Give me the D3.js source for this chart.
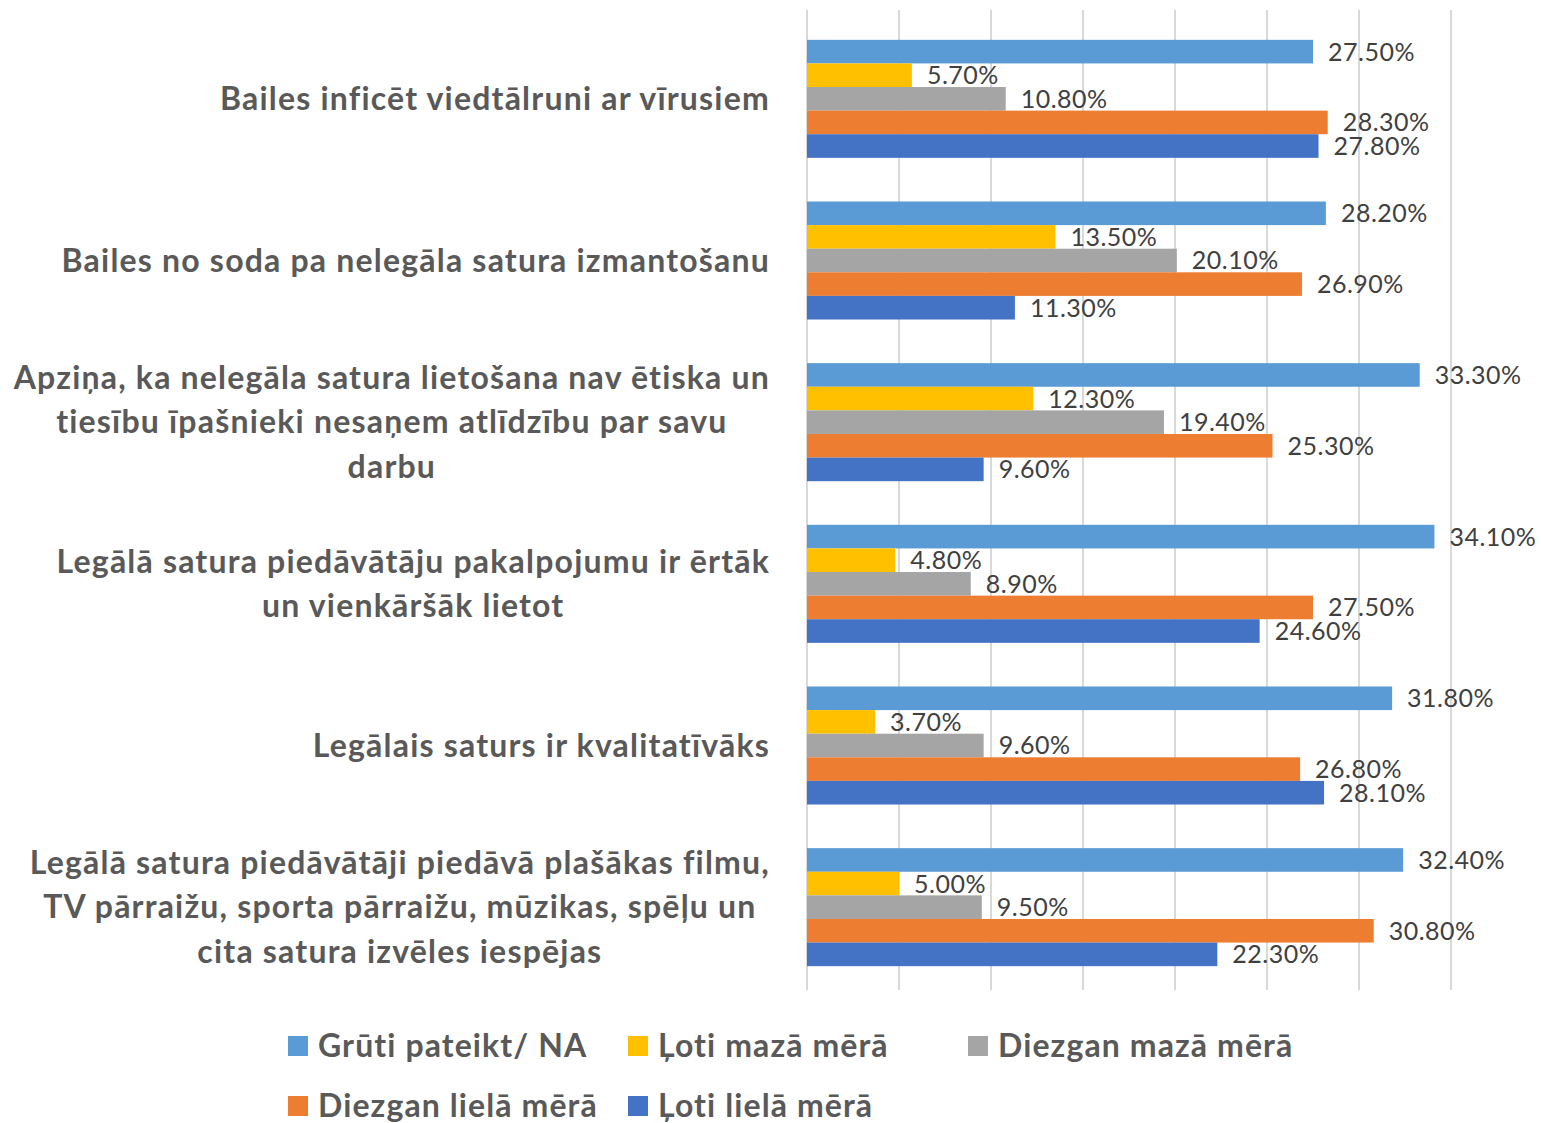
<!DOCTYPE html>
<html>
<head>
<meta charset="utf-8">
<script src="https://cdn.jsdelivr.net/npm/d3@7"></script>
<style>
  body { margin: 0; background: #fff; }
  svg { display: block; }
</style>
</head>
<body>
<div id="chart"></div>
<script>
/* global d3 */

// ----- data -----
const categories = [
    ['Bailes inficēt viedtālruni ar vīrusiem'],
    ['Bailes no soda pa nelegāla satura izmantošanu'],
    ['Apziņa, ka nelegāla satura lietošana nav ētiska un', 'tiesību īpašnieki nesaņem atlīdzību par savu', 'darbu'],
    ['Legālā satura piedāvātāju pakalpojumu ir ērtāk', 'un vienkāršāk lietot'],
    ['Legālais saturs ir kvalitatīvāks'],
    ['Legālā satura piedāvātāji piedāvā plašākas filmu,', 'TV pārraižu, sporta pārraižu, mūzikas, spēļu un', 'cita satura izvēles iespējas']
];

const seriesNames = ['Grūti pateikt/ NA', 'Ļoti mazā mērā', 'Diezgan mazā mērā', 'Diezgan lielā mērā', 'Ļoti lielā mērā'];
const seriesColors = ['#5B9BD5', '#FFC000', '#A5A5A5', '#ED7D31', '#4472C4'];

const gruti = [27.5, 28.2, 33.3, 34.1, 31.8, 32.4];
const lotiMaza = [5.7, 13.5, 12.3, 4.8, 3.7, 5.0];
const diezganMaza = [10.8, 20.1, 19.4, 8.9, 9.6, 9.5];
const diezganLiela = [28.3, 26.9, 25.3, 27.5, 26.8, 30.8];
const lotiLiela = [27.8, 11.3, 9.6, 24.6, 28.1, 22.3];

const seriesValues = [gruti, lotiMaza, diezganMaza, diezganLiela, lotiLiela];
const xTicks = [0, 5, 10, 15, 20, 25, 30, 35];

// ----- layout -----
const width = 1541, height = 1123;
const plot = {left: 807, right: 1451, top: 18, bottom: 988};
const textCol = '#595959';
const font = 'Lato, Carlito, sans-serif';

const svg = d3.select('#chart').append('svg')
    .attr('width', width)
    .attr('height', height);

const x = d3.scaleLinear().domain([0, 35]).range([plot.left, plot.right]);

const y0 = d3.scaleBand()
    .domain(d3.range(categories.length))
    .range([plot.top, plot.bottom])
    .paddingInner(0.27)
    .paddingOuter(0.135);

const y1 = d3.scaleBand()
    .domain(d3.range(seriesNames.length))
    .range([0, y0.bandwidth()]);

// gridlines
svg.append('g')
    .selectAll('line')
    .data(xTicks)
    .enter()
    .append('line')
    .attr('x1', d => x(d))
    .attr('x2', d => x(d))
    .attr('y1', 10)
    .attr('y2', 990)
    .attr('stroke', '#d9d9d9')
    .attr('stroke-width', 2);

// bars
const groups = svg.append('g')
    .selectAll('g')
    .data(categories.map((c, i) => i))
    .enter()
    .append('g')
    .attr('transform', i => `translate(0,${y0(i)})`);

groups.selectAll('rect')
    .data(i => seriesValues.map((vals, s) => ({s, v: vals[i]})))
    .enter()
    .append('rect')
    .attr('x', x(0))
    .attr('y', d => y1(d.s))
    .attr('width', d => x(d.v) - x(0))
    .attr('height', y1.bandwidth())
    .attr('fill', d => seriesColors[d.s]);

groups.selectAll('text')
    .data(i => seriesValues.map((vals, s) => ({s, v: vals[i]})))
    .enter()
    .append('text')
    .attr('x', d => x(d.v) + 15)
    .attr('y', d => y1(d.s) + y1.bandwidth() / 2)
    .attr('dy', '0.36em')
    .attr('font-family', font)
    .attr('font-size', 25)
    .attr('letter-spacing', '0.5px')
    .attr('fill', '#404040')
    .text(d => d.v.toFixed(2) + '%');

// category labels (centered lines, block right-aligned)
const labelRight = 770;
const lineH = 44.5;
const catLabels = svg.append('g')
    .attr('font-family', font)
    .attr('font-weight', 'bold')
    .attr('font-size', 32)
    .attr('letter-spacing', '1.2px')
    .attr('fill', textCol);

categories.forEach((lines, i) => {
    const cy = y0(i) + y0.bandwidth() / 2;
    const t = catLabels.append('text').attr('text-anchor', 'middle');
    const spans = lines.map((ln, k) => t.append('tspan')
        .attr('y', cy + (k - (lines.length - 1) / 2) * lineH)
        .attr('dy', '0.35em')
        .text(ln));
    const maxW = d3.max(spans, s => s.node().getComputedTextLength());
    spans.forEach(s => s.attr('x', labelRight - maxW / 2));
});

// legend
const legendPos = [[288, 1046], [628, 1046], [968, 1046], [288, 1106], [628, 1106]];
const legend = svg.append('g')
    .selectAll('g')
    .data(seriesNames)
    .enter()
    .append('g')
    .attr('transform', (d, i) => `translate(${legendPos[i][0]},${legendPos[i][1]})`);

legend.append('rect')
    .attr('x', 0)
    .attr('y', -10)
    .attr('width', 20)
    .attr('height', 20)
    .attr('fill', (d, i) => seriesColors[i]);

legend.append('text')
    .attr('x', 30)
    .attr('y', 0)
    .attr('dy', '0.35em')
    .attr('font-family', font)
    .attr('font-weight', 'bold')
    .attr('font-size', 32)
    .attr('letter-spacing', '1.1px')
    .attr('fill', textCol)
    .text(d => d);
</script>
</body>
</html>
